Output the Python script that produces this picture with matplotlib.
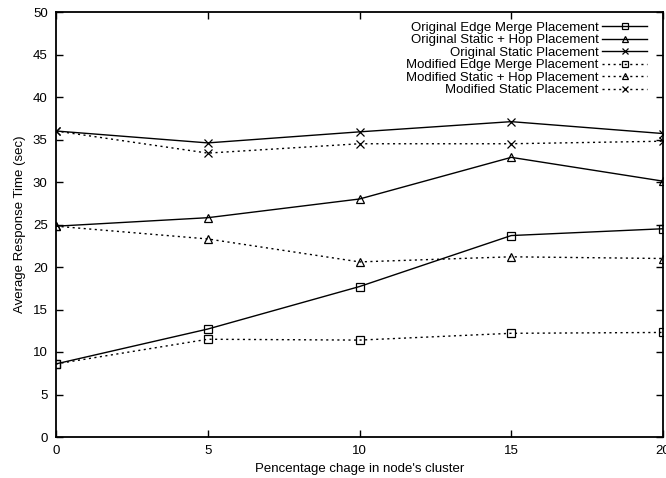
import numpy as np
import matplotlib
matplotlib.use("Agg")
from matplotlib import pyplot as plt

plt.rcParams['font.family'] = ['Liberation Sans', 'DejaVu Sans']

x = [0, 5, 10, 15, 20]
orig_edge = [8.6, 12.7, 17.7, 23.7, 24.5]
orig_hop = [24.8, 25.8, 28.0, 32.9, 30.1]
orig_static = [36.0, 34.6, 35.9, 37.1, 35.7]
mod_edge = [8.6, 11.5, 11.4, 12.2, 12.3]
mod_hop = [24.8, 23.3, 20.6, 21.2, 21.0]
mod_static = [36.0, 33.4, 34.5, 34.5, 34.8]

labels = ["Original Edge Merge Placement", "Original Static + Hop Placement",
          "Original Static Placement", "Modified Edge Merge Placement",
          "Modified Static + Hop Placement", "Modified Static Placement"]

fig = plt.figure(figsize=(6.66, 4.78), dpi=100)
ax = fig.add_axes([56 / 666, 41 / 478, 607 / 666, 425 / 478])

dot = (0, (1.5, 2.5))
mk = dict(color='black', linewidth=1, markersize=5.5, markerfacecolor='none',
          markeredgewidth=0.9)
ax.plot(x, orig_edge, '-', marker='s', label=labels[0], **mk)
ax.plot(x, orig_hop, '-', marker='^', label=labels[1], **mk)
ax.plot(x, orig_static, '-', marker='x', label=labels[2], **mk)
ax.plot(x, mod_edge, linestyle=dot, marker='s', label=labels[3], **mk)
ax.plot(x, mod_hop, linestyle=dot, marker='^', label=labels[4], **mk)
ax.plot(x, mod_static, linestyle=dot, marker='x', label=labels[5], **mk)

ax.set_xlim(0, 20)
ax.set_ylim(0, 50)
ax.set_xticks(np.arange(0, 21, 5))
ax.set_yticks(np.arange(0, 51, 5))
ax.tick_params(direction='in', top=True, right=True, length=5, width=1,
               labelsize=9.5, pad=6)
for s in ax.spines.values():
    s.set_linewidth(1.3)

ax.set_xlabel("Pencentage chage in node's cluster", fontsize=9.5, labelpad=4)
ax.set_ylabel("Average Response Time (sec)", fontsize=9.5, labelpad=5)

# markerfirst=False right-aligns the rows, like gnuplot's key
ax.legend(loc='upper right', bbox_to_anchor=(1 - 5.5 / 607, 1 + 1 / 425),
          frameon=False, markerfirst=False, fontsize=9.5, handlelength=3.4,
          labelspacing=0.02, borderaxespad=0.4, handletextpad=0.25,
          markerscale=0.9)

fig.savefig("out.png", dpi=100)
